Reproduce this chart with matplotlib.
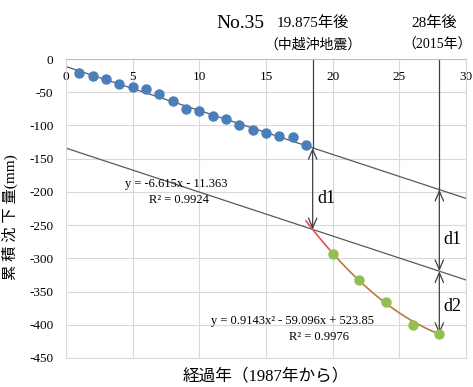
import numpy as np
import matplotlib.pyplot as plt

plt.rcParams['font.family'] = ['Liberation Serif', 'Noto Sans CJK JP']
plt.rcParams['axes.unicode_minus'] = False

# 測定値（1987年から）
years_before = list(range(1, 19))
settle_before = [-21.6, -25, -30.6, -37, -42, -45.7, -52.7, -63.7, -75.3,
                 -78.3, -86.3, -90.8, -100, -107, -111, -116, -118, -129.5]
years_after = [20, 22, 24, 26, 28]
settle_after = [-293, -333, -366, -400, -414]

# 近似式
lin_a, lin_b = -6.615, -11.363
quad_a, quad_b, quad_c = 0.9143, -59.096, 523.85
event_x = 18.5
end_x = 28

x_ticks = [0, 5, 10, 15, 20, 25, 30]
y_ticks = [0, -50, -100, -150, -200, -250, -300, -350, -400, -450]


def lin(x):
    return lin_a * x + lin_b


def quad(x):
    return quad_a * x ** 2 + quad_b * x + quad_c


d1 = lin(event_x) - quad(event_x)

fig = plt.figure(figsize=(4.73, 3.87), dpi=100)
ax = fig.add_axes([66 / 473, 1 - 358 / 387, 400 / 473, 299 / 387])

# 直線（近似線と平行移動線）
xs = np.linspace(0, 30, 50)
ax.plot(xs, lin(xs), color='#595959', lw=0.9, zorder=2)
ax.plot(xs, lin(xs) - d1, color='#595959', lw=0.9, zorder=2)

# 2次曲線
xq1 = np.linspace(18, 20, 20)
ax.plot(xq1, quad(xq1), color='#e0524a', lw=1.2, zorder=3)
xq2 = np.linspace(20, 28, 50)
ax.plot(xq2, quad(xq2), color='#b97a3c', lw=1.2, zorder=3)

# 点
ax.plot(years_before, settle_before, 'o', color='#4a7ebb', ms=6.5, zorder=4)
ax.plot(years_after, settle_after, 'o', color='#92c050', ms=6.5, zorder=4)

# 矢印
arrow = dict(arrowstyle='<->,head_length=0.7,head_width=0.3', color='#404040',
             lw=0.9, shrinkA=0, shrinkB=0)
ax.plot([event_x, event_x], [0, lin(event_x)], color='#404040', lw=0.9)
ax.annotate('', xy=(event_x, lin(event_x)), xytext=(event_x, quad(event_x)),
            arrowprops=arrow)
ax.plot([end_x, end_x], [0, lin(end_x)], color='#404040', lw=0.9)
ax.annotate('', xy=(end_x, lin(end_x)), xytext=(end_x, lin(end_x) - d1),
            arrowprops=arrow)
ax.annotate('', xy=(end_x, lin(end_x) - d1), xytext=(end_x, quad(end_x)),
            arrowprops=arrow)

ax.text(19.5, -210, 'd1', fontsize=13, ha='center', va='center')
ax.text(29.0, -272, 'd1', fontsize=13, ha='center', va='center')
ax.text(29.0, -373, 'd2', fontsize=13, ha='center', va='center')

ax.text(8.3, -188, 'y = -6.615x - 11.363', fontsize=9, ha='center', va='center')
ax.text(8.5, -212, 'R² = 0.9924', fontsize=9, ha='center', va='center')
ax.text(17.0, -394, 'y = 0.9143x² - 59.096x + 523.85', fontsize=9,
        ha='center', va='center')
ax.text(19.0, -419, 'R² = 0.9976', fontsize=9, ha='center', va='center')

# 上部の注記
ax.text(13.1, 54, 'No.35', fontsize=14, ha='center', va='center', clip_on=False)
ax.text(18.5, 54, '19.875年後', fontsize=11, ha='center', va='center', clip_on=False)
ax.text(18.5, 21, '（中越沖地震）', fontsize=10, ha='center', va='center', clip_on=False)
ax.text(27.6, 54, '28年後', fontsize=11, ha='center', va='center', clip_on=False)
ax.text(27.8, 21, '（2015年）', fontsize=10, ha='center', va='center', clip_on=False)

ax.set_xlim(0, 30)
ax.set_ylim(-450, 0)
ax.set_xticks(x_ticks)
ax.set_yticks(y_ticks)
ax.xaxis.tick_top()
ax.tick_params(axis='x', length=0, pad=-17, labelsize=9.5)
ax.tick_params(axis='y', length=0, pad=9, labelsize=9.5)
ax.grid(color='#d9d9d9', lw=0.8)
for s in ax.spines.values():
    s.set_color('#d9d9d9')
ax.spines['top'].set_color('#bfbfbf')

ax.set_ylabel('累 積 沈 下 量(mm)', fontsize=11)
ax.yaxis.set_label_coords(-0.12, 0.47)
ax.xaxis.set_label_position('bottom')
ax.set_xlabel('経過年（1987年から）', fontsize=12)
ax.xaxis.set_label_coords(0.5, -0.035)

fig.savefig('out.png', dpi=100)
